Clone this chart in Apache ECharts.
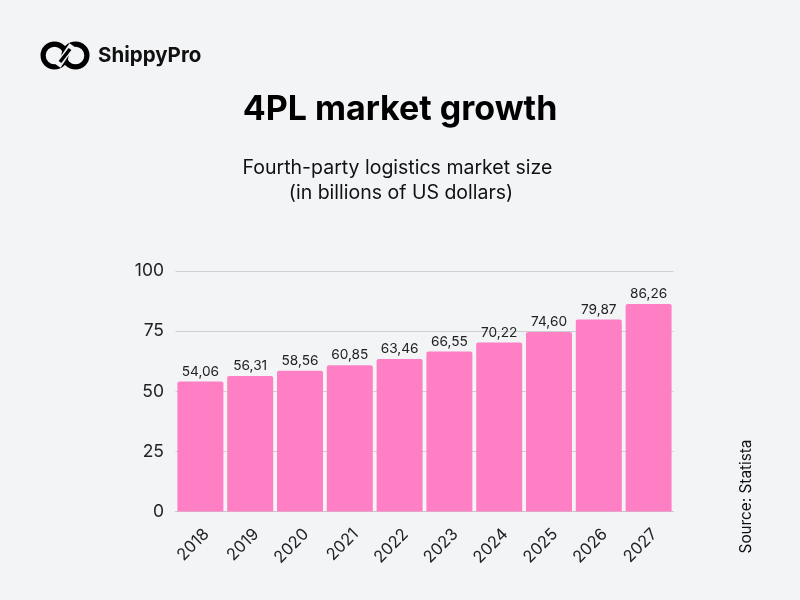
<!DOCTYPE html>
<html>
<head>
<meta charset="utf-8">
<style>
  html, body { margin: 0; padding: 0; background: #f3f4f6; }
  #chart { width: 800px; height: 600px; }
</style>
<script src="https://cdn.jsdelivr.net/npm/echarts@6/dist/echarts.min.js"></script>
</head>
<body>
<div id="chart"></div>
<script>
const years = ['2018', '2019', '2020', '2021', '2022', '2023', '2024', '2025', '2026', '2027'];
const marketSize = [54.06, 56.31, 58.56, 60.85, 63.46, 66.55, 70.22, 74.60, 79.87, 86.26];
const yTicks = [0, 25, 50, 75, 100];

const fuente = 'Inter, sans-serif';
const fondo = '#f3f4f6';

const chart = echarts.init(document.getElementById('chart'));

chart.setOption({
  backgroundColor: fondo,
  animation: false,
  textStyle: { fontFamily: fuente },
  title: {
    text: '4PL market growth',
    left: 'center',
    top: 88,
    textStyle: { fontFamily: fuente, fontSize: 34, fontWeight: 700, color: '#000' }
  },
  grid: { left: 175.5, right: 126.5, top: 271, bottom: 88.5 },
  xAxis: {
    type: 'category',
    data: years,
    axisLine: { lineStyle: { color: '#c9c9cc', width: 1 } },
    axisTick: { show: false },
    axisLabel: { rotate: 45, fontSize: 16.5, color: '#222', margin: 14, interval: 0, verticalAlign: 'top' }
  },
  yAxis: {
    type: 'value',
    min: yTicks[0],
    max: yTicks[yTicks.length - 1],
    interval: 25,
    axisLine: { show: false },
    axisTick: { show: false },
    axisLabel: { fontSize: 17.5, color: '#222', margin: 11.5, padding: [2, 0, 0, 0] },
    splitLine: { lineStyle: { color: '#d0d0d3', width: 1 } }
  },
  series: [{
    type: 'bar',
    data: marketSize,
    barWidth: 46,
    itemStyle: { color: '#ff7fc5', borderRadius: [2, 2, 0, 0] },
    label: {
      show: true,
      position: 'top',
      distance: 3,
      fontSize: 13.7,
      color: '#222',
      formatter: p => p.value.toFixed(2).replace('.', ',')
    }
  }],
  graphic: [
    // logo
    { type: 'ring', shape: { cx: 54.5, cy: 55.5, r: 14, r0: 8.8 }, style: { fill: '#000' } },
    { type: 'ring', shape: { cx: 75.5, cy: 55.5, r: 14, r0: 8.8 }, style: { fill: '#000' } },
    { type: 'line', shape: { x1: 58, y1: 66, x2: 72, y2: 45 }, style: { stroke: fondo, lineWidth: 6 } },
    { type: 'line', shape: { x1: 60, y1: 62, x2: 70, y2: 49 }, style: { stroke: '#000', lineWidth: 3.5 } },
    { type: 'text', style: { x: 98, y: 56, text: 'ShippyPro', font: '700 20.5px Inter, sans-serif', fill: '#111', textVerticalAlign: 'middle' } },
    // subtitulo
    { type: 'text', style: { x: 397.5, y: 168, text: 'Fourth-party logistics market size', font: '400 19.5px Inter, sans-serif', fill: '#111', textAlign: 'center', textVerticalAlign: 'middle' } },
    { type: 'text', style: { x: 401, y: 193, text: '(in billions of US dollars)', font: '400 19.5px Inter, sans-serif', fill: '#111', textAlign: 'center', textVerticalAlign: 'middle' } },
    // fuente
    { type: 'text', rotation: Math.PI / 2, x: 746, y: 496.5, style: { text: 'Source: Statista', font: '400 15.3px Inter, sans-serif', fill: '#111', textAlign: 'center', textVerticalAlign: 'middle' } }
  ]
});
</script>
</body>
</html>
